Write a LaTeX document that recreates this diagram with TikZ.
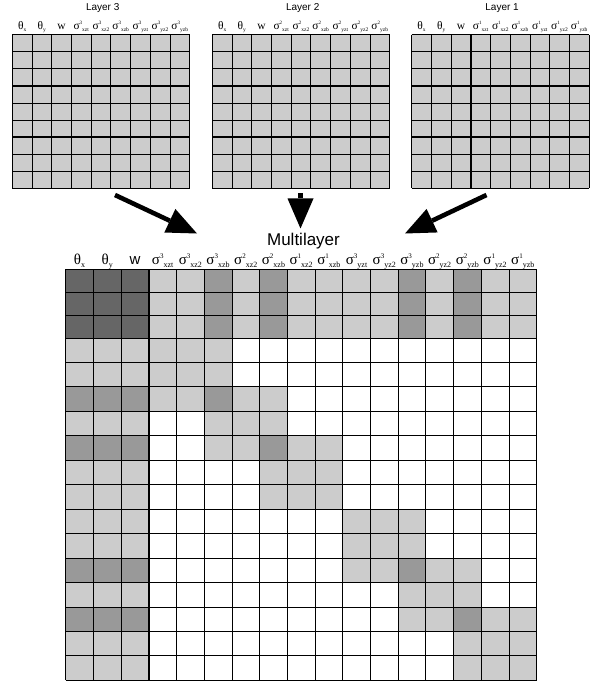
\documentclass[tikz,border=0pt]{standalone}
\usepackage{fontspec}
\setmainfont{Liberation Serif}
\newfontfamily\sansf{Liberation Sans}
\usetikzlibrary{arrows.meta}
\definecolor{cD}{HTML}{666666}
\definecolor{cM}{HTML}{999999}
\definecolor{cL}{HTML}{CCCCCC}
\definecolor{cW}{HTML}{FFFFFF}
% big labels
\newcommand\bsig[2]{σ\raisebox{6.5pt}{\fontsize{7}{7}\selectfont #1}\raisebox{-2.5pt}{\fontsize{8}{8}\selectfont #2}}
\newcommand\bth[1]{θ\raisebox{-2.5pt}{\fontsize{8}{8}\selectfont #1}}
% small labels
\newcommand\ssig[2]{σ\raisebox{5pt}{\fontsize{5}{5}\selectfont #1}\raisebox{-1.5pt}{\fontsize{5.5}{5.5}\selectfont #2}}
\newcommand\sth[1]{θ\raisebox{-1.5pt}{\fontsize{5.5}{5.5}\selectfont #1}}
\tikzset{
  gridline/.style={line width=0.8pt, draw=black},
  thickline/.style={line width=1.7pt, draw=black},
  bigarrow/.style={line width=4.6pt, -{Triangle[length=30pt,width=26pt,line width=0pt]}},
  biglab/.style={anchor=base, inner sep=0pt, font=\fontsize{15}{15}\selectfont},
  smalllab/.style={anchor=base, inner sep=0pt, font=\fontsize{11.5}{11.5}\selectfont},
  titlelab/.style={anchor=base, inner sep=0pt, font=\sansf\fontsize{10}{10}\selectfont},
}
\begin{document}
\begin{tikzpicture}[x=1pt,y=-1pt]
\useasboundingbox (0,0) rectangle (595,684);
% ---------- small layer matrices ----------
\foreach \mx/\nm/\tt/\ly in {12.3/L3/Layer 3/3, 212.3/L2/Layer 2/2, 411.7/L1/Layer 1/1}{
  \fill[cL] (\mx,34.6) rectangle (\mx+177.3,188.3);
  \foreach \i in {0,...,9}{
    \draw[gridline] (\mx+\i*19.7,34.6) -- (\mx+\i*19.7,188.3);
    \draw[gridline] (\mx,34.6+\i*17.08) -- (\mx+177.3,34.6+\i*17.08);
  }
  \draw[thickline] (\mx+3*19.7,34.6) -- (\mx+3*19.7,188.3);
  \draw[thickline] (\mx,34.6+3*17.08) -- (\mx+177.3,34.6+3*17.08);
  \draw[thickline] (\mx,34.6+6*17.08) -- (\mx+177.3,34.6+6*17.08);
  \node[titlelab] (t\nm) at (\mx+90.4,10.5) {\tt};
  \foreach \lb [count=\k] in {{\sth{x}},{\sth{y}},{w},{\ssig{\ly}{xzt}},{\ssig{\ly}{xz2}},{\ssig{\ly}{xzb}},{\ssig{\ly}{yzt}},{\ssig{\ly}{yz2}},{\ssig{\ly}{yzb}}}{
    \node[smalllab] (s\nm c\k) at (\mx+19.7*\k-9.85,30) {\lb};
  }
}
% ---------- arrows ----------
\coordinate (a3s) at (115,195);
\coordinate (a3e) at (197,233.5);
\coordinate (a2s) at (300.5,193.5);
\coordinate (a2e) at (300.5,228.5);
\coordinate (a1s) at (486.5,195);
\coordinate (a1e) at (405,233.5);
\draw[bigarrow] (a3s) -- (a3e);
\draw[bigarrow] (a2s) -- (a2e);
\draw[bigarrow] (a1s) -- (a1e);
\node[anchor=base, inner sep=0pt, font=\sansf\fontsize{17}{17}\selectfont] (mlt) at (303.5,246) {Multilayer};
% ---------- big matrix ----------
\def\ylist{{269.3,292.7,315.5,338.5,362,386.7,411.5,435.8,460,484.3,509,533.5,558.2,582.7,606.9,631.5,655.8,680}}
\foreach \row [count=\r] in {
 {D,D,D,L,L,M,L,M,L,L,L,L,M,L,M,L,L},
 {D,D,D,L,L,M,L,M,L,L,L,L,M,L,M,L,L},
 {D,D,D,L,L,M,L,M,L,L,L,L,M,L,M,L,L},
 {L,L,L,L,L,L,W,W,W,W,W,W,W,W,W,W,W},
 {L,L,L,L,L,L,W,W,W,W,W,W,W,W,W,W,W},
 {M,M,M,L,L,M,L,L,W,W,W,W,W,W,W,W,W},
 {L,L,L,W,W,L,L,L,W,W,W,W,W,W,W,W,W},
 {M,M,M,W,W,L,L,M,L,L,W,W,W,W,W,W,W},
 {L,L,L,W,W,W,W,L,L,L,W,W,W,W,W,W,W},
 {L,L,L,W,W,W,W,L,L,L,W,W,W,W,W,W,W},
 {L,L,L,W,W,W,W,W,W,W,L,L,L,W,W,W,W},
 {L,L,L,W,W,W,W,W,W,W,L,L,L,W,W,W,W},
 {M,M,M,W,W,W,W,W,W,W,L,L,M,L,L,W,W},
 {L,L,L,W,W,W,W,W,W,W,W,W,L,L,L,W,W},
 {M,M,M,W,W,W,W,W,W,W,W,W,L,L,M,L,L},
 {L,L,L,W,W,W,W,W,W,W,W,W,W,W,L,L,L},
 {L,L,L,W,W,W,W,W,W,W,W,W,W,W,L,L,L}}{
  \pgfmathsetmacro\ya{\ylist[\r-1]}
  \pgfmathsetmacro\yb{\ylist[\r]}
  \foreach \cc [count=\k] in \row {
    \fill[c\cc] ({65.7+27.7*(\k-1)},\ya) rectangle ({65.7+27.7*\k},\yb);
  }
}
\foreach \k in {0,...,17}{
  \draw[gridline] ({65.7+27.7*\k},269.3) -- ({65.7+27.7*\k},680);
  \pgfmathsetmacro\yy{\ylist[\k]}
  \draw[gridline] (65.7,\yy) -- (536.6,\yy);
}
\draw[thickline] (148.8,269.3) -- (148.8,680);
\draw[thickline] (65.7,338.5) -- (536.6,338.5);
\foreach \lb [count=\k] in {{\bth{x}},{\bth{y}},{{\sansf w}},{\bsig{3}{xzt}},{\bsig{3}{xz2}},{\bsig{3}{xzb}},{\bsig{2}{xz2}},{\bsig{2}{xzb}},{\bsig{1}{xz2}},{\bsig{1}{xzb}},{\bsig{3}{yzt}},{\bsig{3}{yz2}},{\bsig{3}{yzb}},{\bsig{2}{yz2}},{\bsig{2}{yzb}},{\bsig{1}{yz2}},{\bsig{1}{yzb}}}{
  \node[biglab] (b\k) at ({65.7+27.7*\k-13.85},265) {\lb};
}
\end{tikzpicture}
\end{document}
